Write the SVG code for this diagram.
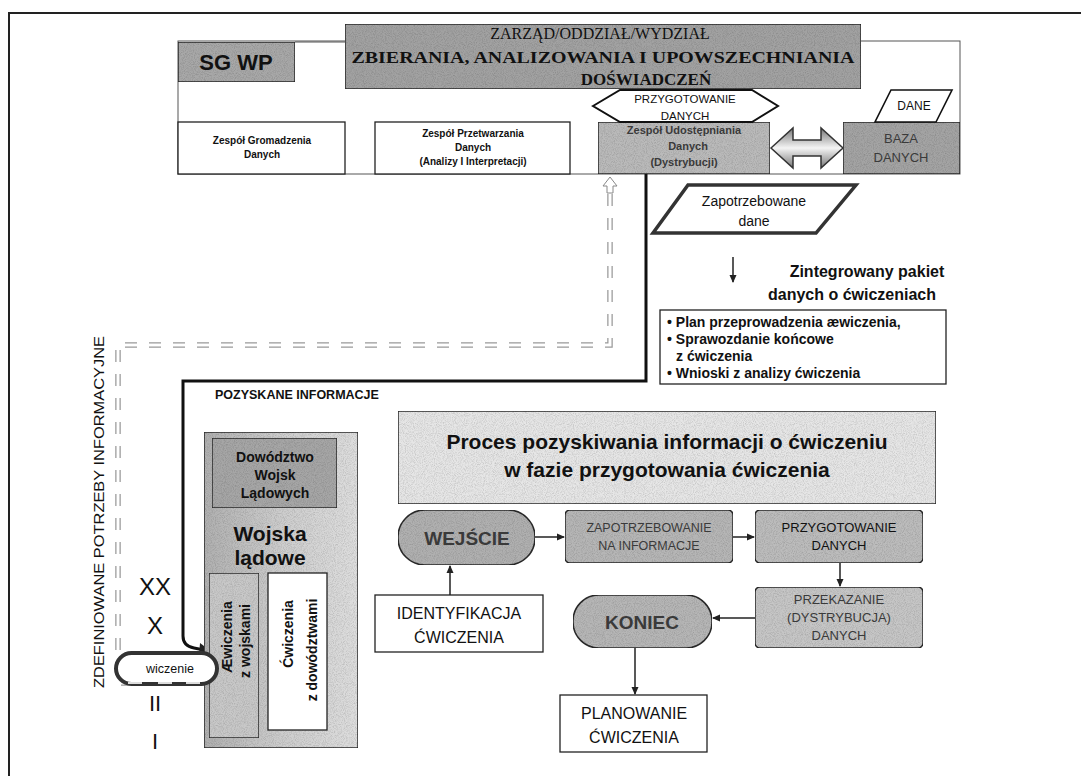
<svg xmlns="http://www.w3.org/2000/svg" width="1081" height="776" viewBox="0 0 1081 776">
<style>
.s{font-family:"Liberation Sans",Arial,sans-serif;fill:#111}
.sb{font-family:"Liberation Sans",Arial,sans-serif;font-weight:bold;fill:#111}
.sr{font-family:"Liberation Serif","Times New Roman",serif;fill:#111}
.c{text-anchor:middle}
.faded{fill:#3a3a3a}
.box{fill:#fff;stroke:#222;stroke-width:1.3}
.gray{stroke:#2a2a2a;stroke-width:1.5}
.conn{fill:none;stroke:#222;stroke-width:1.5}
</style>
<defs>
<filter id="grain" x="0" y="0" width="100%" height="100%">
<feTurbulence type="fractalNoise" baseFrequency="1.1" numOctaves="1" seed="3" result="n"/>
<feColorMatrix in="n" type="matrix" values="0 0 0 0 0  0 0 0 0 0  0 0 0 0 0  0.7 0 0 0 -0.28" result="a"/>
<feComposite in="a" in2="SourceGraphic" operator="atop"/>
</filter>
<linearGradient id="wl" x1="0" y1="0" x2="1" y2="0">
<stop offset="0" stop-color="#b0b0b0"/><stop offset="0.5" stop-color="#cdcdcd"/><stop offset="1" stop-color="#dedede"/>
</linearGradient>
<linearGradient id="dbl" x1="0" y1="0" x2="0" y2="1">
<stop offset="0" stop-color="#777"/><stop offset="0.5" stop-color="#f4f4f4"/><stop offset="1" stop-color="#777"/>
</linearGradient>
<marker id="ah" markerWidth="8" markerHeight="8" refX="7" refY="4" orient="auto" markerUnits="userSpaceOnUse">
<path d="M0,0.5 L8,4 L0,7.5 Z" fill="#222"/>
</marker>
</defs>
<rect width="1081" height="776" fill="#fff"/>
<path d="M9,776 V13 H1081" fill="none" stroke="#222" stroke-width="2"/>

<!-- top structure frame -->
<rect x="178" y="41" width="782" height="133" fill="#fff" stroke="#555" stroke-width="1"/>

<g id="connectors">
<!-- dashed hollow information-need path -->
<path d="M205,683 H118 V345 H610 V192" fill="none" stroke="#999" stroke-width="5.5" stroke-dasharray="12 12"/>
<path d="M205,683 H118 V345 H610 V192" fill="none" stroke="#fff" stroke-width="3" stroke-dasharray="12 12"/>
<path d="M610,177 L603,186 L607,186 L607,193 L613,193 L613,186 L617,186 Z" fill="#fff" stroke="#888" stroke-width="1"/>
<!-- solid obtained-info path -->
<path d="M646,174 V381 H183 V636 Q183,646 194,648 L204,650" fill="none" stroke="#111" stroke-width="3"/>
<path d="M200,643 L212,652 L199,656 Z" fill="#222"/>
<!-- line between SG WP and ZARZAD -->
<line x1="295" y1="42" x2="345" y2="42" stroke="#555" stroke-width="1"/>
<!-- down arrow to package -->
<line x1="733" y1="257" x2="733" y2="282" class="conn" stroke-width="1.2" marker-end="url(#ah)"/>
<!-- process arrows -->
<line x1="535" y1="537" x2="564" y2="537" class="conn" marker-end="url(#ah)"/>
<line x1="733" y1="537" x2="754" y2="537" class="conn" marker-end="url(#ah)"/>
<line x1="840" y1="563" x2="840" y2="586" class="conn" marker-end="url(#ah)"/>
<line x1="755" y1="618" x2="713" y2="618" class="conn" marker-end="url(#ah)"/>
<line x1="635" y1="648" x2="635" y2="694" class="conn" stroke-width="1.2" marker-end="url(#ah)"/>
<line x1="450" y1="595" x2="450" y2="566" class="conn" marker-end="url(#ah)"/>
</g>

<g id="sgwp">
<rect x="178" y="42" width="117" height="40" fill="#a8a8a8" class="gray" filter="url(#grain)"/>
<text x="236" y="70" class="sb c" font-size="22">SG WP</text>
</g>

<g id="zarzad">
<rect x="345" y="24" width="516" height="65" fill="#a2a2a2" class="gray" filter="url(#grain)"/>
<text x="600" y="39" class="sr c" font-size="16">ZARZĄD/ODDZIAŁ/WYDZIAŁ</text>
<text x="603" y="63" class="sr c" font-size="17" font-weight="bold" textLength="503" lengthAdjust="spacingAndGlyphs">ZBIERANIA, ANALIZOWANIA I UPOWSZECHNIANIA</text>
<text x="646" y="85" class="sr c" font-size="17" font-weight="bold">DOŚWIADCZEŃ</text>
</g>

<g id="zespol-gromadzenia">
<rect x="178" y="122" width="167" height="52" class="box"/>
<text x="262" y="144" class="sb c" font-size="10">Zespół Gromadzenia</text>
<text x="262" y="158" class="sb c" font-size="10">Danych</text>
</g>

<g id="zespol-przetwarzania">
<rect x="375" y="122" width="195" height="52" class="box"/>
<text x="473" y="137" class="sb c" font-size="10">Zespół Przetwarzania</text>
<text x="473" y="151" class="sb c" font-size="10">Danych</text>
<text x="473" y="165" class="sb c" font-size="10">(Analizy I Interpretacji)</text>
</g>

<g id="zespol-udostepniania">
<rect x="598" y="122" width="172" height="52" fill="#bababa" class="gray" filter="url(#grain)"/>
<text x="684" y="134" class="sb c faded" font-size="11">Zespół Udostępniania</text>
<text x="688" y="150" class="sb c faded" font-size="11">Danych</text>
<text x="684" y="166" class="sb c faded" font-size="11">(Dystrybucji)</text>
</g>

<g id="przygotowanie-hex">
<path d="M593,106 L620,90 L752,90 L778,106 L752,122 L620,122 Z" fill="#fff" stroke="#111" stroke-width="2"/>
<text x="685" y="103" class="s c" font-size="11.5">PRZYGOTOWANIE</text>
<text x="685" y="120" class="s c" font-size="11.5">DANYCH</text>
</g>

<g id="double-arrow">
<path d="M771,148 L793,128 L793,140 L821,140 L821,128 L843,148 L821,168 L821,156 L793,156 L793,168 Z" fill="url(#dbl)" stroke="#333" stroke-width="1.5"/>
</g>

<g id="baza">
<rect x="843" y="122" width="117" height="52" fill="#a4a4a4" class="gray" filter="url(#grain)"/>
<text x="901" y="143" class="s c faded" font-size="13">BAZA</text>
<text x="901" y="162" class="s c faded" font-size="13">DANYCH</text>
</g>

<g id="dane">
<path d="M891,90 L952,90 L936,122 L875,122 Z" fill="#fff" stroke="#111" stroke-width="1.6"/>
<text x="914" y="110" class="s c" font-size="12">DANE</text>
</g>

<g id="zapotrzebowane">
<path d="M688,185 L856,185 L816,233 L653,233 Z" fill="#fff" stroke="#333" stroke-width="3.5"/>
<text x="754" y="206" class="s c" font-size="14">Zapotrzebowane</text>
<text x="754" y="226" class="s c" font-size="14">dane</text>
</g>

<g id="pakiet-title">
<text x="867" y="277" class="sb c" font-size="16">Zintegrowany pakiet</text>
<text x="852" y="300" class="sb c" font-size="16">danych o ćwiczeniach</text>
</g>

<g id="pakiet-lista">
<rect x="660" y="310" width="286" height="74" class="box"/>
<text x="667" y="327" class="sb" font-size="14">• Plan przeprowadzenia æwiczenia,</text>
<text x="667" y="344" class="sb" font-size="14">• Sprawozdanie końcowe</text>
<text x="676" y="361" class="sb" font-size="14">z ćwiczenia</text>
<text x="667" y="378" class="sb" font-size="14">• Wnioski z analizy ćwiczenia</text>
</g>

<g id="potrzeby-label">
<text transform="translate(104,512) rotate(-90)" class="s c" font-size="15" fill="#333" textLength="352" lengthAdjust="spacingAndGlyphs">ZDEFINIOWANE POTRZEBY INFORMACYJNE</text>
</g>

<g id="szczeble">
<text x="155" y="595" class="s c" font-size="24">XX</text>
<text x="155" y="634" class="s c" font-size="24">X</text>
<text x="155" y="711" class="s c" font-size="22">II</text>
<text x="155" y="749" class="s c" font-size="22">I</text>
</g>

<g id="pozyskane">
<text x="215" y="399" class="sb" font-size="12.5">POZYSKANE  INFORMACJE</text>
</g>

<g id="wojska-ladowe">
<rect x="204" y="432" width="154" height="316" fill="url(#wl)" class="gray" filter="url(#grain)"/>
<text x="270" y="541" class="sb c" font-size="21">Wojska</text>
<text x="270" y="565" class="sb c" font-size="21">lądowe</text>
</g>

<g id="dowodztwo">
<rect x="212" y="438" width="125" height="70" fill="#a6a6a6" class="gray" stroke-width="2" filter="url(#grain)"/>
<text x="275" y="462" class="sb c" font-size="14">Dowództwo</text>
<text x="275" y="480" class="sb c" font-size="14">Wojsk</text>
<text x="275" y="498" class="sb c" font-size="14">Lądowych</text>
</g>

<g id="cw-wojskami">
<rect x="209" y="573" width="50" height="165" fill="#c8c8c8" class="gray" filter="url(#grain)"/>
<text transform="translate(232,637) rotate(-90)" class="sb c" font-size="14">Æwiczenia</text>
<text transform="translate(250,641) rotate(-90)" class="sb c" font-size="14">z wojskami</text>
</g>

<g id="cw-dowodztwami">
<rect x="268" y="573" width="59" height="157" class="box"/>
<text transform="translate(293,634) rotate(-90)" class="sb c" font-size="14">Ćwiczenia</text>
<text transform="translate(317,650) rotate(-90)" class="sb c" font-size="14">z dowództwami</text>
</g>

<g id="cwiczenie-pill">
<rect x="116" y="653" width="101" height="31" rx="15.5" fill="#fff" stroke="#333" stroke-width="4"/>
<path d="M128,683 H142 M158,683 H172 M186,683 H200" stroke="#ddd" stroke-width="2"/>
<text x="170" y="673" class="s c" font-size="12.5" fill="#333">wiczenie</text>
</g>

<g id="proces">
<rect x="398" y="411" width="538" height="93" fill="#e6e6e6" class="gray" filter="url(#grain)"/>
<text x="667" y="449" class="sb c" font-size="21">Proces pozyskiwania informacji o ćwiczeniu</text>
<text x="667" y="477" class="sb c" font-size="21">w fazie przygotowania ćwiczenia</text>
</g>

<g id="wejscie">
<rect x="398" y="510" width="137" height="55" rx="27" fill="#b0b0b0" class="gray" filter="url(#grain)"/>
<text x="467" y="545" class="sb c faded" font-size="19">WEJŚCIE</text>
</g>

<g id="zapotrzebowanie">
<rect x="565" y="510" width="168" height="53" rx="5" fill="#b6b6b6" class="gray" filter="url(#grain)"/>
<text x="649" y="532" class="s c faded" font-size="12.5">ZAPOTRZEBOWANIE</text>
<text x="649" y="550" class="s c faded" font-size="12.5">NA INFORMACJE</text>
</g>

<g id="przygotowanie">
<rect x="755" y="510" width="168" height="53" rx="5" fill="#bcbcbc" class="gray" filter="url(#grain)"/>
<text x="839" y="532" class="s c" font-size="13">PRZYGOTOWANIE</text>
<text x="839" y="550" class="s c" font-size="13">DANYCH</text>
</g>

<g id="przekazanie">
<rect x="755" y="587" width="168" height="61" rx="5" fill="#c6c6c6" class="gray" filter="url(#grain)"/>
<text x="839" y="604" class="s c faded" font-size="13">PRZEKAZANIE</text>
<text x="839" y="622" class="s c faded" font-size="13">(DYSTRYBUCJA)</text>
<text x="839" y="640" class="s c faded" font-size="13">DANYCH</text>
</g>

<g id="koniec">
<rect x="573" y="595" width="139" height="53" rx="26" fill="#b6b6b6" class="gray" filter="url(#grain)"/>
<text x="642" y="629" class="sb c faded" font-size="19">KONIEC</text>
</g>

<g id="identyfikacja">
<rect x="375" y="595" width="168" height="57" class="box"/>
<text x="459" y="619" class="s c" font-size="16">IDENTYFIKACJA</text>
<text x="459" y="643" class="s c" font-size="16">ĆWICZENIA</text>
</g>

<g id="planowanie">
<rect x="560" y="695" width="147" height="57" class="box"/>
<text x="634" y="719" class="s c" font-size="16">PLANOWANIE</text>
<text x="634" y="743" class="s c" font-size="16">ĆWICZENIA</text>
</g>
</svg>
